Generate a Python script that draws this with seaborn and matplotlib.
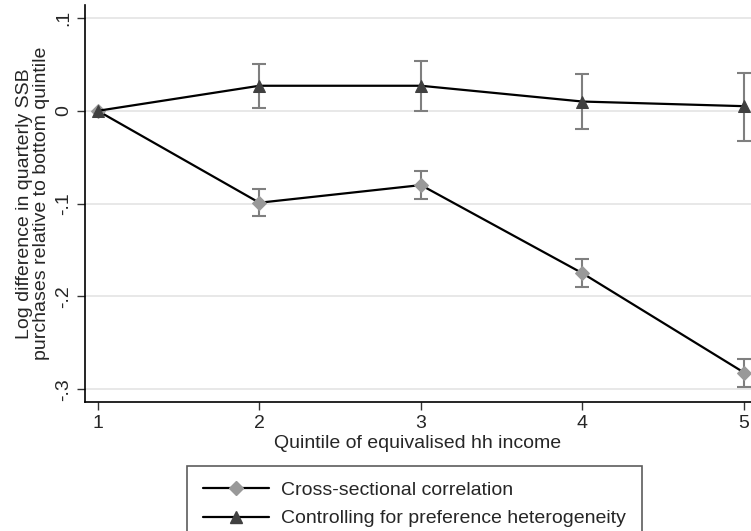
import numpy as np
import pandas as pd
import matplotlib
matplotlib.use("Agg")
import matplotlib.pyplot as plt
import seaborn as sns
from matplotlib.lines import Line2D

# data
quintile = [1, 2, 3, 4, 5]
cross = [0.0, -0.099, -0.080, -0.175, -0.282]
cross_lo = [np.nan, -0.113, -0.095, -0.190, -0.298]
cross_hi = [np.nan, -0.084, -0.065, -0.160, -0.267]
pref = [0.0, 0.027, 0.027, 0.010, 0.005]
pref_lo = [np.nan, 0.003, -0.0003, -0.020, -0.032]
pref_hi = [np.nan, 0.050, 0.054, 0.040, 0.041]
series_names = ["Cross-sectional correlation", "Controlling for preference heterogeneity"]

sns.set_style("white")
plt.rcParams["font.family"] = ["Liberation Sans", "DejaVu Sans"]
plt.rcParams["font.size"] = 14

df = pd.DataFrame({
    "quintile": quintile * 2,
    "value": cross + pref,
    "series": [series_names[0]] * 5 + [series_names[1]] * 5,
})

fig = plt.figure(figsize=(7.51, 5.31), dpi=100)
ax = fig.add_axes([85 / 751, 1 - 402.3 / 531, 1 - 85 / 751, (402.3 - 5) / 531])

# grid
for yv in [-0.3, -0.2, -0.1, 0, 0.1]:
    ax.axhline(yv, color="#e8e8e8", lw=1.4, zorder=0)

# error bars
err_col = "#7f7f7f"
c = np.array(cross)
ax.errorbar(quintile, cross, yerr=[c - np.array(cross_lo), np.array(cross_hi) - c],
            fmt="none", ecolor=err_col, elinewidth=1.5, capsize=5, capthick=1.5, zorder=2)
p = np.array(pref)
ax.errorbar(quintile, pref, yerr=[p - np.array(pref_lo), np.array(pref_hi) - p],
            fmt="none", ecolor=err_col, elinewidth=1.5, capsize=5, capthick=1.5, zorder=2)

sns.lineplot(data=df, x="quintile", y="value", hue="series", style="series",
             markers={series_names[0]: "D", series_names[1]: "^"},
             dashes=False,
             palette={series_names[0]: "black", series_names[1]: "black"},
             lw=1.6, ax=ax, legend=False, zorder=3)

# recolour / resize markers
mk_cols = {"D": ("#999999", 6.8), "^": ("#404040", 8.5)}
for ln in ax.get_lines():
    m = ln.get_marker()
    if m in mk_cols:
        col, ms = mk_cols[m]
        ln.set_markerfacecolor(col)
        ln.set_markeredgecolor(col)
        ln.set_markersize(ms)

ax.set_xlim(0.921, 5.043)
ax.set_ylim(-0.314, 0.114)
ax.set_xticks([1, 2, 3, 4, 5])
ax.set_yticks([-0.3, -0.2, -0.1, 0, 0.1])
ax.set_yticklabels(["-.3", "-.2", "-.1", "0", ".1"], rotation=90, va="center")
ax.tick_params(axis="both", direction="out", length=6, width=1, color="#333333",
               labelsize=14, pad=3, bottom=True, left=True)
for side in ["top", "right"]:
    ax.spines[side].set_visible(False)
for side in ["left", "bottom"]:
    ax.spines[side].set_color("black")
    ax.spines[side].set_linewidth(1.2)

ax.set_xlabel("Quintile of equivalised hh income", fontsize=14, labelpad=2)
ax.set_ylabel("Log difference in quarterly SSB\npurchases relative to bottom quintile",
              fontsize=14, labelpad=4, linespacing=1.0)

handles = [
    Line2D([], [], color="black", lw=1.6, marker="D", markersize=6.8,
           markerfacecolor="#999999", markeredgecolor="#999999"),
    Line2D([], [], color="black", lw=1.6, marker="^", markersize=8.5,
           markerfacecolor="#404040", markeredgecolor="#404040"),
]
leg = fig.legend(handles, series_names, loc="upper left",
                 bbox_to_anchor=(187 / 751, 1 - 466 / 531), fontsize=14,
                 frameon=True, fancybox=False, handlelength=3.4, handletextpad=0.65,
                 labelspacing=0.55, borderpad=0.8, borderaxespad=0)
leg.get_frame().set_edgecolor("#333333")
leg.get_frame().set_linewidth(1.2)

fig.savefig("out.png", dpi=100)
